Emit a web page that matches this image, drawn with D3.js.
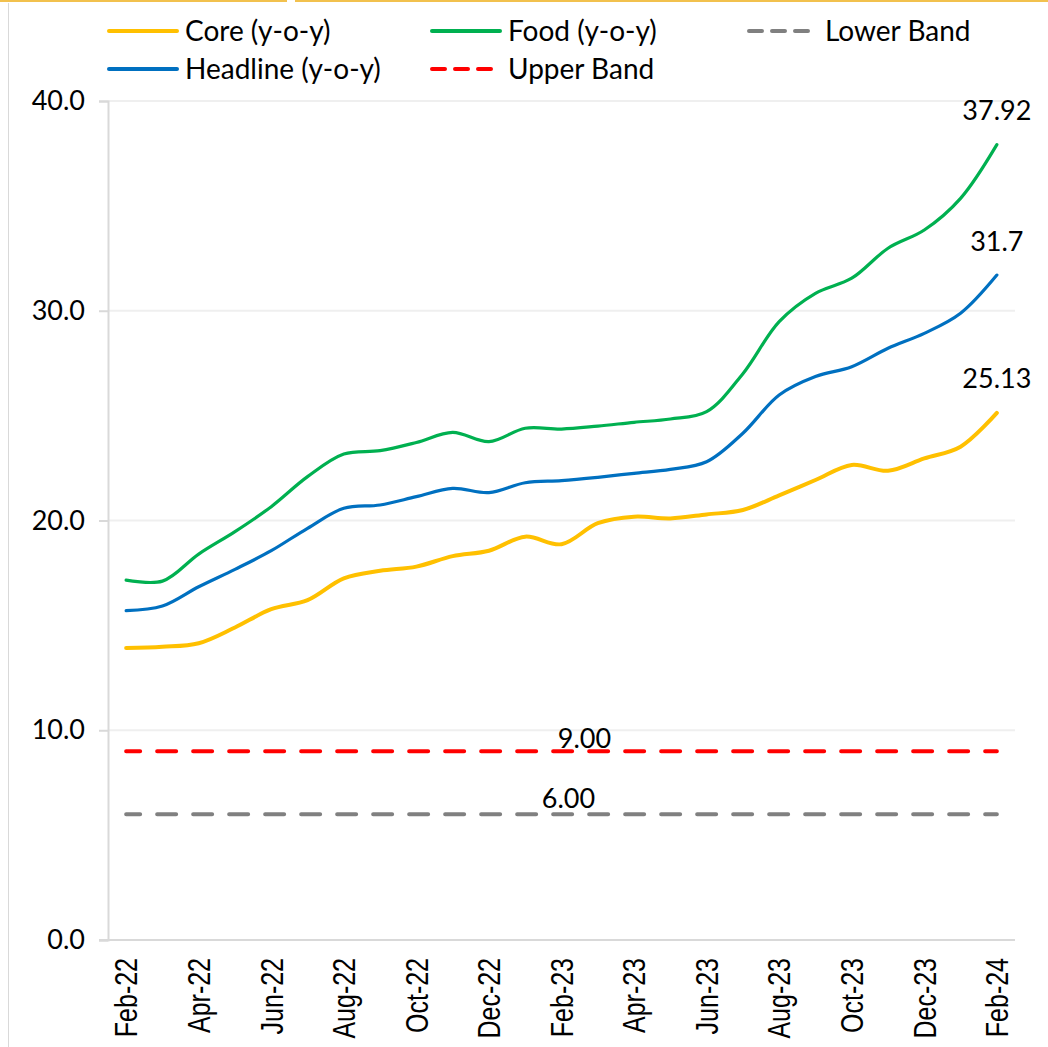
<!DOCTYPE html>
<html>
<head>
<meta charset="utf-8">
<script src="https://cdn.jsdelivr.net/npm/d3@7"></script>
<style>
  html, body { margin: 0; padding: 0; background: #fff; }
  svg { display: block; }
</style>
</head>
<body>
<div id="chart"></div>
<script>
// Monthly categories
const months = ["Feb-22","Mar-22","Apr-22","May-22","Jun-22","Jul-22","Aug-22","Sep-22","Oct-22","Nov-22","Dec-22","Jan-23",
                "Feb-23","Mar-23","Apr-23","May-23","Jun-23","Jul-23","Aug-23","Sep-23","Oct-23","Nov-23","Dec-23","Jan-24","Feb-24"];

// Year-on-year inflation series (%)
const core     = [13.92,13.98,14.15,14.90,15.77,16.20,17.24,17.60,17.80,18.30,18.56,19.23,18.87,19.87,20.18,20.10,20.29,20.50,21.20,21.93,22.65,22.37,22.96,23.52,25.13];
const food     = [17.16,17.11,18.40,19.47,20.66,22.09,23.17,23.33,23.72,24.20,23.76,24.40,24.36,24.50,24.68,24.84,25.19,27.00,29.48,30.83,31.55,32.98,33.85,35.36,37.92];
const headline = [15.70,15.92,16.84,17.67,18.56,19.63,20.58,20.74,21.14,21.53,21.33,21.80,21.90,22.06,22.25,22.44,22.80,24.16,25.98,26.86,27.33,28.21,28.92,29.88,31.70];

// Target band limits
const upperBand = [9,9,9,9,9,9,9,9,9,9,9,9,9,9,9,9,9,9,9,9,9,9,9,9,9];
const lowerBand = [6,6,6,6,6,6,6,6,6,6,6,6,6,6,6,6,6,6,6,6,6,6,6,6,6];

// Axis ticks
const yTicks = [0, 10, 20, 30, 40];
const xTickLabels = ["Feb-22","Apr-22","Jun-22","Aug-22","Oct-22","Dec-22","Feb-23","Apr-23","Jun-23","Aug-23","Oct-23","Dec-23","Feb-24"];

// Legend entries
const legendNames = ["Core (y-o-y)", "Food (y-o-y)", "Lower Band", "Headline (y-o-y)", "Upper Band"];

const W = 1048, H = 1047;
const plot = { left: 108, right: 1015, top: 101, bottom: 940 };

const svg = d3.select("#chart").append("svg")
  .attr("width", W).attr("height", H);

// Frame accents
svg.append("rect").attr("x", 0).attr("y", 0).attr("width", 287).attr("height", 2).attr("fill", "#F2C14E");
svg.append("rect").attr("x", 295).attr("y", 0).attr("width", W - 295).attr("height", 2).attr("fill", "#F2C14E");
svg.append("line").attr("x1", 8.5).attr("x2", 8.5).attr("y1", 3).attr("y2", H)
  .attr("stroke", "#d9d9d9").attr("stroke-width", 1);

const x = d3.scalePoint().domain(months).range([plot.left, plot.right]).padding(0.5);
const y = d3.scaleLinear().domain([0, 40]).range([plot.bottom, plot.top]);

// Horizontal gridlines
svg.append("g").selectAll("line")
  .data(yTicks.filter(d => d > 0))
  .join("line")
  .attr("x1", plot.left).attr("x2", plot.right)
  .attr("y1", d => y(d)).attr("y2", d => y(d))
  .attr("stroke", "#efefef").attr("stroke-width", 2);

// Y axis
const yAxis = svg.append("g")
  .attr("transform", `translate(${plot.left},0)`)
  .call(d3.axisLeft(y).tickValues(yTicks).tickFormat(d3.format(".1f")).tickSize(9).tickPadding(14));
yAxis.select(".domain").attr("stroke", "#d9d9d9").attr("stroke-width", 2);
yAxis.selectAll(".tick line").attr("stroke", "#d9d9d9").attr("stroke-width", 2);
yAxis.selectAll(".tick text")
  .attr("font-family", "Lato, 'Open Sans', sans-serif")
  .attr("font-size", 27).attr("fill", "#000");

// X axis baseline
svg.append("line")
  .attr("x1", plot.left - 9).attr("x2", plot.right)
  .attr("y1", y(0)).attr("y2", y(0))
  .attr("stroke", "#d9d9d9").attr("stroke-width", 2);

// X tick labels, rotated
svg.append("g").selectAll("text")
  .data(xTickLabels)
  .join("text")
  .attr("transform", d => `translate(${x(d)},958) rotate(-90) scale(1,1.25)`)
  .attr("text-anchor", "end")
  .attr("dy", "0.36em")
  .attr("font-family", "'Liberation Sans', Arial, sans-serif")
  .attr("font-size", 25)
  .attr("fill", "#000")
  .text(d => d);

const line = d3.line()
  .x((d, i) => x(months[i]))
  .y(d => y(d))
  .curve(d3.curveCatmullRom.alpha(0.5));

const straight = d3.line()
  .x((d, i) => x(months[i]))
  .y(d => y(d));

// Band lines
svg.append("path").datum(lowerBand)
  .attr("d", straight).attr("fill", "none")
  .attr("stroke", "#808080").attr("stroke-width", 4)
  .attr("stroke-linecap", "round").attr("stroke-dasharray", "19,17").attr("stroke-dashoffset", 5);
svg.append("path").datum(upperBand)
  .attr("d", straight).attr("fill", "none")
  .attr("stroke", "#FF0000").attr("stroke-width", 4)
  .attr("stroke-linecap", "round").attr("stroke-dasharray", "19,17").attr("stroke-dashoffset", 5);

// Series lines
const seriesDefs = [
  { data: core,     color: "#FFC000", width: 4 },
  { data: headline, color: "#0070C0", width: 3.2 },
  { data: food,     color: "#00B050", width: 3.2 }
];
seriesDefs.forEach(s => {
  svg.append("path").datum(s.data)
    .attr("d", line).attr("fill", "none")
    .attr("stroke", s.color).attr("stroke-width", s.width)
    .attr("stroke-linecap", "round").attr("stroke-linejoin", "round");
});

const labelFont = "Lato, 'Open Sans', sans-serif";
const last = months.length - 1;

// End-point value labels
[
  { v: food[last],     text: "37.92" },
  { v: headline[last], text: "31.7" },
  { v: core[last],     text: "25.13" }
].forEach(l => {
  svg.append("text")
    .attr("x", x(months[last])).attr("y", y(l.v) - 34)
    .attr("dy", "0.35em").attr("text-anchor", "middle")
    .attr("font-family", labelFont).attr("font-size", 27).attr("fill", "#000")
    .text(l.text);
});

// Band value labels
svg.append("text")
  .attr("x", x("Feb-23") + 23).attr("y", y(upperBand[12]) - 13)
  .attr("dy", "0.35em").attr("text-anchor", "middle")
  .attr("font-family", labelFont).attr("font-size", 27).attr("fill", "#000")
  .text(d3.format(".2f")(upperBand[12]));
svg.append("text")
  .attr("x", x("Feb-23") + 7).attr("y", y(lowerBand[12]) - 16)
  .attr("dy", "0.35em").attr("text-anchor", "middle")
  .attr("font-family", labelFont).attr("font-size", 27).attr("fill", "#000")
  .text(d3.format(".2f")(lowerBand[12]));

// Legend
const legendItems = [
  { name: legendNames[0], color: "#FFC000", dash: null,  x: 107, y: 31, w: 4 },
  { name: legendNames[1], color: "#00B050", dash: null,  x: 430, y: 31, w: 4 },
  { name: legendNames[2], color: "#808080", dash: "13,10", x: 747, y: 31, w: 4 },
  { name: legendNames[3], color: "#0070C0", dash: null,  x: 107, y: 69, w: 4 },
  { name: legendNames[4], color: "#FF0000", dash: "13,10", x: 430, y: 69, w: 4 }
];
const lg = svg.append("g").selectAll("g").data(legendItems).join("g")
  .attr("transform", d => `translate(${d.x},${d.y})`);
lg.append("line")
  .attr("x1", 2).attr("x2", 70).attr("y1", 0).attr("y2", 0)
  .attr("stroke", d => d.color).attr("stroke-width", d => d.w)
  .attr("stroke-linecap", "round")
  .attr("stroke-dasharray", d => d.dash);
lg.append("text")
  .attr("x", 78).attr("y", 0).attr("dy", "0.36em")
  .attr("font-family", labelFont).attr("font-size", 28).attr("fill", "#000")
  .text(d => d.name);
</script>
</body>
</html>
